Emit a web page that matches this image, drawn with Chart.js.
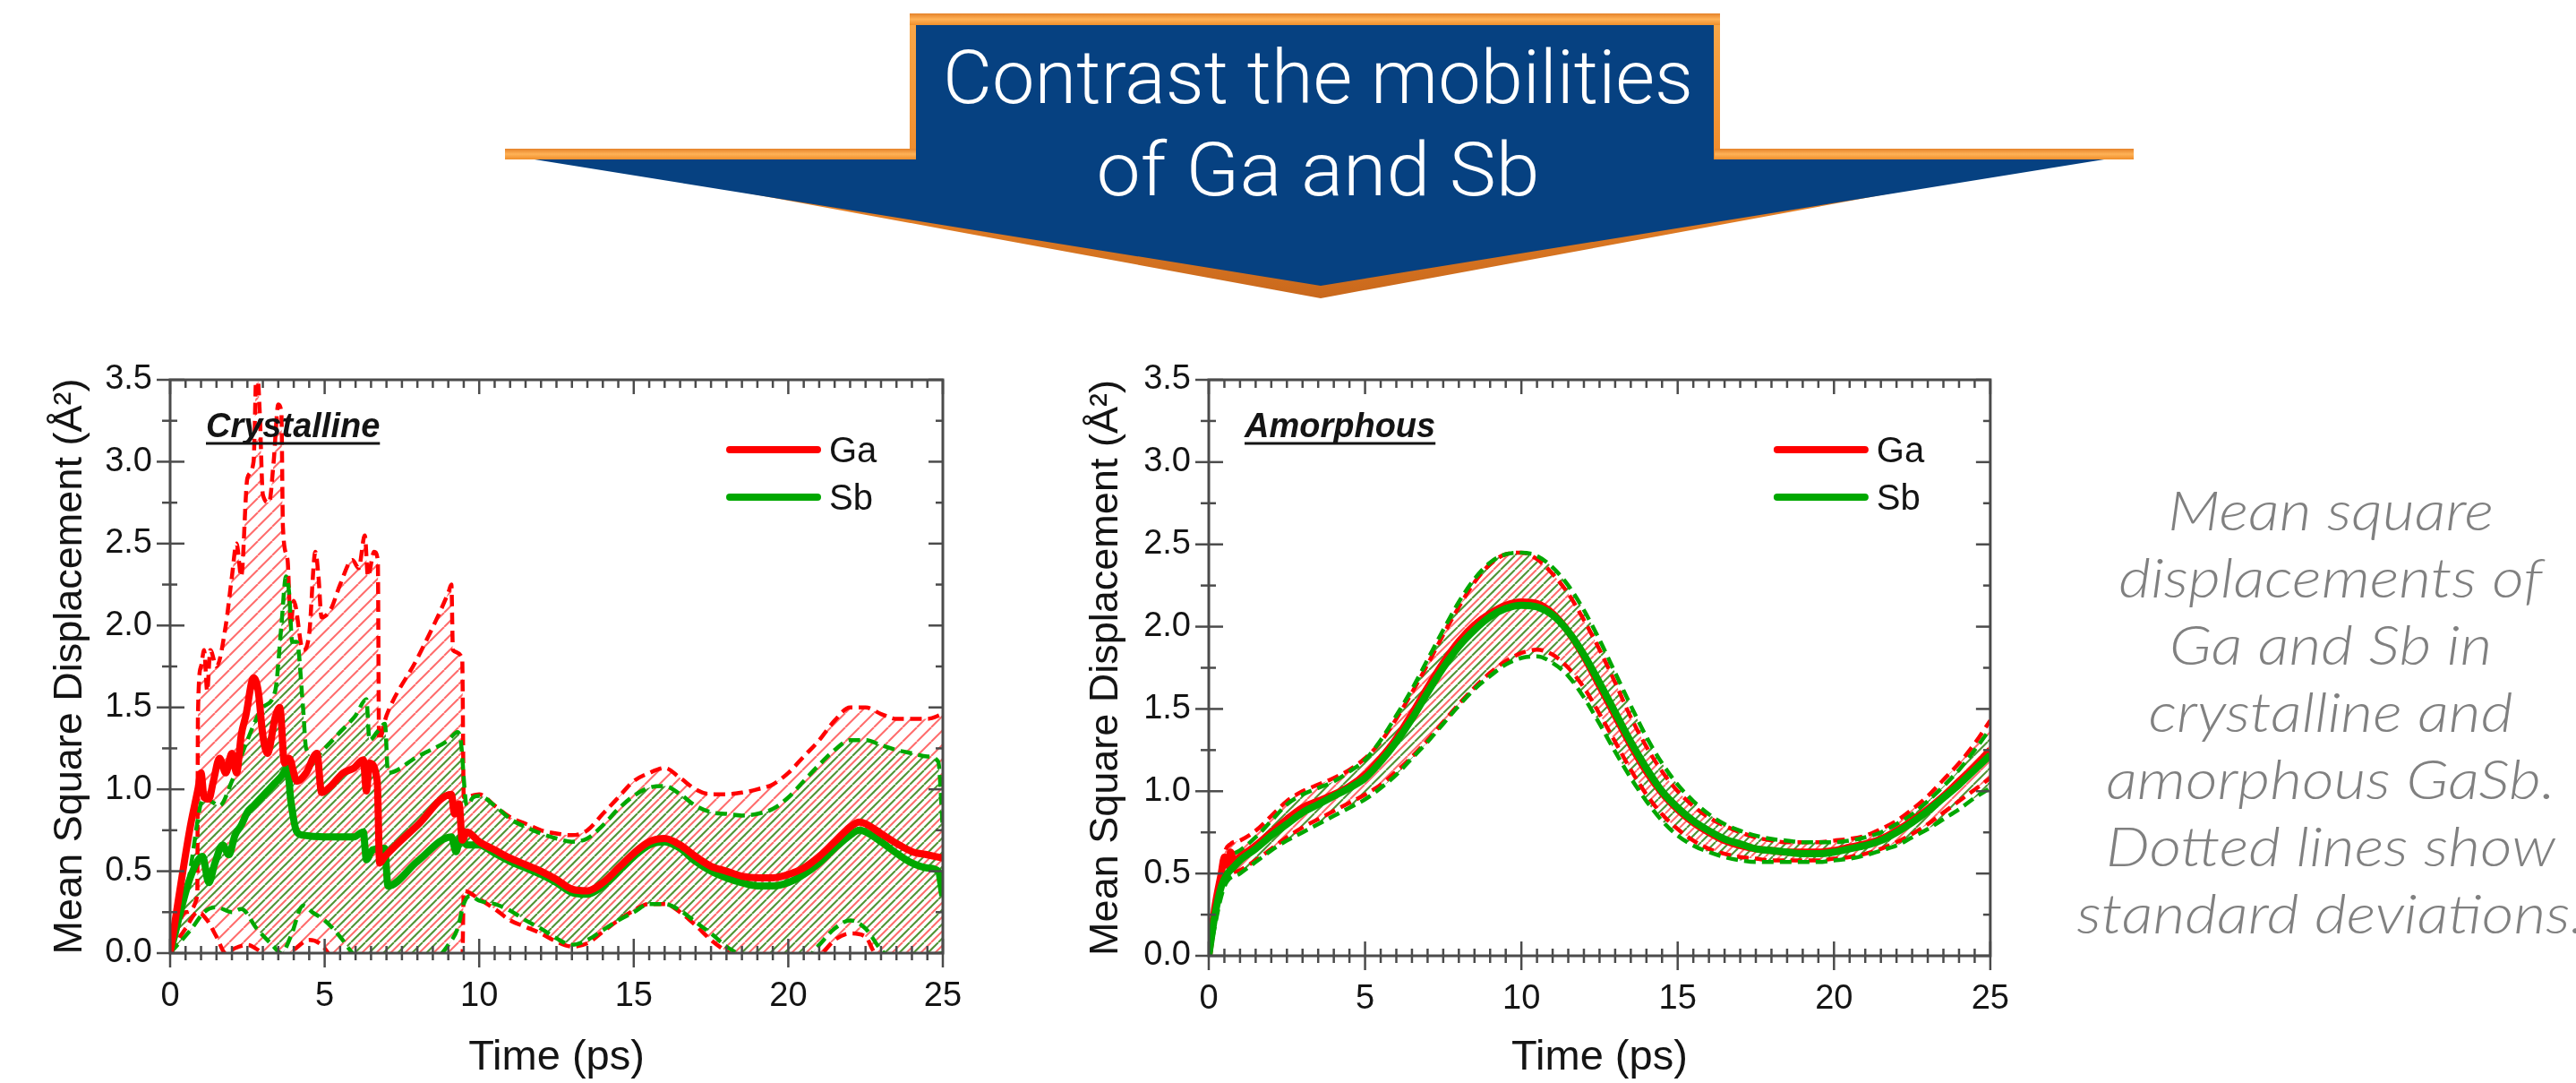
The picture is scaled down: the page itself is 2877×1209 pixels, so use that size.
<!DOCTYPE html>
<html>
<head>
<meta charset="utf-8">
<script src="https://cdn.jsdelivr.net/npm/chart.js@4.4.1/dist/chart.umd.min.js"></script>
<style>
  html, body { margin:0; padding:0; background:#fff; width:2877px; height:1209px; overflow:hidden; position:relative; }
  #banner { position:absolute; left:0; top:0; }
  .chartbox { position:absolute; top:380px; width:1130px; height:829px; }
  #caption { position:absolute; left:2103px; top:531px; width:1000px; text-align:center;
    font-family:Lato,'Open Sans',sans-serif; font-weight:300; font-style:italic; font-size:62px;
    line-height:75px; color:#808080; white-space:nowrap; transform:scaleX(1.12); transform-origin:50% 0; }
</style>
</head>
<body>
<svg id="banner" width="2877" height="340" xmlns="http://www.w3.org/2000/svg">
  <defs>
    <linearGradient id="og" x1="0" y1="0" x2="0" y2="1">
      <stop offset="0" stop-color="#f9a94a"/>
      <stop offset="0.5" stop-color="#f08c2c"/>
      <stop offset="1" stop-color="#c9681c"/>
    </linearGradient>
    <linearGradient id="ot" x1="0" y1="0" x2="0" y2="1">
      <stop offset="0" stop-color="#e5822a"/>
      <stop offset="0.5" stop-color="#ffb257"/>
      <stop offset="1" stop-color="#ef8f2c"/>
    </linearGradient>
  </defs>
  <polygon points="1016,15 1921,15 1921,166 2383,166 1475,333 564,166 1016,166" fill="url(#og)"/>
  <rect x="1016" y="15" width="905" height="13" fill="url(#ot)"/>
  <rect x="564" y="166" width="459" height="12" fill="url(#ot)"/>
  <rect x="1915" y="166" width="468" height="12" fill="url(#ot)"/>
  <polygon points="1023,28 1914,28 1914,178 2350,178 1475,319 597,178 1023,178" fill="#064181"/>
  <text x="1472" y="115" text-anchor="middle" font-family="Roboto, 'Open Sans', sans-serif" font-weight="300" font-size="84" fill="#ffffff" textLength="838" lengthAdjust="spacingAndGlyphs">Contrast the mobilities</text>
  <text x="1472" y="218" text-anchor="middle" font-family="Roboto, 'Open Sans', sans-serif" font-weight="300" font-size="84" fill="#ffffff" textLength="495" lengthAdjust="spacingAndGlyphs">of Ga and Sb</text>
</svg>

<div class="chartbox" style="left:0px;"><canvas id="c1" width="1130" height="829"></canvas></div>
<div class="chartbox" style="left:1140px;"><canvas id="c2" width="1130" height="829"></canvas></div>

<div id="caption">Mean square<br>displacements of<br>Ga and Sb in<br>crystalline and<br>amorphous GaSb.<br>Dotted lines show<br>standard deviations.</div>

<script>
// ---------------- DATA (time in ps, MSD in Å²) ----------------
const seriesNames = ['Ga', 'Sb'];
const xTickValues = [0, 5, 10, 15, 20, 25];
const xTickLabels = ['0', '5', '10', '15', '20', '25'];
const yTickValues = [0, 0.5, 1, 1.5, 2, 2.5, 3, 3.5];
const yTickLabels = ['0.0', '0.5', '1.0', '1.5', '2.0', '2.5', '3.0', '3.5'];

// Crystalline
const crysGaMean = [[0,0],[0.65,0.77],[0.9,1.0],[1.0,1.1],[1.1,0.95],[1.25,0.94],[1.4,1.05],[1.6,1.19],[1.8,1.1],[2.0,1.22],[2.15,1.1],[2.3,1.33],[2.45,1.45],[2.7,1.68],[2.85,1.6],[3.0,1.33],[3.15,1.22],[3.4,1.44],[3.55,1.5],[3.7,1.16],[3.85,1.19],[4.1,1.05],[4.4,1.1],[4.75,1.22],[4.9,0.98],[5.2,1.02],[5.6,1.1],[5.95,1.13],[6.25,1.18],[6.35,0.99],[6.45,1.16],[6.7,1.05],[6.78,0.55],[6.95,0.59],[8.0,0.78],[9.1,0.97],[9.2,0.85],[9.35,0.91],[9.45,0.69],[9.6,0.74],[10,0.68],[10.5,0.63],[11,0.58],[11.5,0.54],[12,0.5],[12.5,0.45],[13,0.39],[13.5,0.38],[14,0.43],[14.5,0.52],[15,0.61],[15.5,0.68],[16,0.7],[16.5,0.66],[17,0.59],[17.5,0.53],[18,0.5],[18.5,0.47],[19,0.46],[19.5,0.46],[20,0.48],[20.5,0.52],[21,0.59],[21.5,0.68],[22,0.77],[22.3,0.8],[22.5,0.79],[23,0.73],[23.5,0.67],[24,0.62],[24.5,0.6],[25,0.58]];
const crysSbMean = [[0,0],[0.65,0.46],[1.05,0.59],[1.25,0.43],[1.45,0.55],[1.7,0.66],[1.9,0.6],[2.1,0.72],[2.3,0.78],[2.5,0.86],[2.7,0.9],[3.0,0.96],[3.2,1.0],[3.4,1.04],[3.6,1.08],[3.8,1.13],[3.9,0.94],[4.1,0.74],[4.3,0.72],[5.0,0.71],[5.95,0.71],[6.25,0.74],[6.35,0.57],[6.55,0.63],[6.94,0.64],[7.05,0.41],[8.0,0.56],[9.1,0.71],[9.25,0.62],[9.4,0.71],[9.6,0.66],[10,0.66],[10.5,0.61],[11,0.56],[11.5,0.52],[12,0.48],[12.5,0.43],[13,0.37],[13.5,0.36],[14,0.41],[14.5,0.5],[15,0.59],[15.5,0.66],[16,0.68],[16.5,0.64],[17,0.56],[17.5,0.5],[18,0.46],[18.5,0.43],[19,0.41],[19.5,0.41],[20,0.43],[20.5,0.48],[21,0.55],[21.5,0.64],[22,0.72],[22.3,0.75],[22.5,0.74],[23,0.68],[23.5,0.61],[24,0.55],[24.5,0.52],[24.85,0.5],[25,0.35]];
const crysGaUpper = [[0,0],[0.5,0.25],[0.88,0.35],[0.9,1.45],[1.0,1.75],[1.1,1.85],[1.2,1.6],[1.3,1.85],[1.5,1.75],[1.8,2.0],[2.0,2.3],[2.15,2.5],[2.3,2.3],[2.5,2.9],[2.7,3.0],[2.8,3.6],[2.9,3.3],[3.0,2.8],[3.2,2.75],[3.35,3.0],[3.5,3.35],[3.6,3.3],[3.65,2.6],[3.8,2.4],[3.9,2.0],[4.0,2.15],[4.3,1.85],[4.5,1.95],[4.7,2.45],[4.8,2.3],[4.9,2.05],[5.2,2.1],[5.5,2.25],[5.9,2.4],[6.1,2.35],[6.3,2.55],[6.4,2.3],[6.6,2.45],[6.72,2.4],[6.76,1.3],[7.0,1.45],[8.0,1.8],[9.0,2.2],[9.1,2.25],[9.15,1.85],[9.45,1.8],[9.5,0.95],[10,0.97],[10.5,0.9],[11,0.83],[11.5,0.79],[12,0.75],[12.5,0.73],[13,0.72],[13.5,0.75],[14,0.85],[14.5,0.95],[15,1.05],[15.5,1.1],[16,1.13],[16.5,1.07],[17,1.0],[17.5,0.97],[18,0.97],[18.5,0.98],[19,1.0],[19.5,1.03],[20,1.1],[20.5,1.2],[21,1.3],[21.5,1.42],[22,1.5],[22.5,1.5],[23,1.46],[23.5,1.43],[24,1.43],[24.5,1.43],[25,1.46]];
const crysGaLower = [[0,0],[0.5,0.15],[0.9,0.25],[1.2,0.2],[1.5,0.1],[1.8,0.0],[2.1,0.03],[2.5,0.05],[3.0,0.0],[3.5,-0.05],[4.0,0.02],[4.5,0.08],[4.9,0.05],[5.3,-0.05],[6.0,-0.2],[7.0,-0.3],[8.5,-0.2],[9.45,-0.1],[9.5,0.38],[10,0.33],[10.5,0.27],[11,0.2],[11.5,0.16],[12,0.12],[12.5,0.07],[13,0.04],[13.5,0.06],[14,0.13],[14.5,0.2],[15,0.26],[15.5,0.3],[16,0.3],[16.5,0.25],[17,0.17],[17.5,0.08],[18,0.01],[18.5,-0.05],[19,-0.1],[20,-0.1],[21,-0.02],[21.5,0.08],[22,0.12],[22.5,0.1],[22.8,0.0],[23.5,-0.05],[25,-0.1]];
const crysSbUpper = [[0,0],[0.6,0.45],[1.0,0.92],[1.1,0.95],[1.3,0.93],[1.6,0.9],[2.0,1.05],[2.5,1.3],[3.0,1.5],[3.4,1.6],[3.6,2.0],[3.75,2.3],[3.85,2.2],[3.95,1.9],[4.1,1.9],[4.3,1.5],[4.4,1.25],[4.7,1.2],[5.0,1.25],[5.5,1.35],[6.0,1.45],[6.35,1.55],[6.45,1.3],[6.7,1.35],[6.95,1.4],[7.05,1.1],[8.0,1.2],[9.0,1.3],[9.3,1.35],[9.4,1.3],[9.6,0.9],[9.8,0.95],[10,0.96],[10.5,0.9],[11,0.82],[11.5,0.77],[12,0.73],[12.5,0.7],[13,0.68],[13.5,0.7],[14,0.78],[14.5,0.88],[15,0.96],[15.5,1.01],[16,1.02],[16.5,0.97],[17,0.9],[17.5,0.86],[18,0.85],[18.5,0.84],[19,0.85],[19.5,0.88],[20,0.95],[20.5,1.05],[21,1.15],[21.5,1.24],[22,1.3],[22.5,1.3],[23,1.27],[23.5,1.24],[24,1.22],[24.5,1.2],[24.85,1.17],[25,0.75]];
const crysSbLower = [[0,0],[0.7,0.15],[1.1,0.25],[1.5,0.28],[2.0,0.25],[2.3,0.27],[2.8,0.15],[3.3,0.05],[3.6,0.0],[3.9,0.1],[4.3,0.29],[4.6,0.25],[5.0,0.2],[5.5,0.1],[5.9,0.0],[6.5,-0.1],[8.5,-0.05],[9.0,0.05],[9.3,0.15],[9.5,0.3],[9.7,0.35],[10,0.32],[10.5,0.3],[11,0.26],[11.5,0.2],[12,0.15],[12.5,0.09],[13,0.05],[13.5,0.08],[14,0.14],[14.5,0.2],[15,0.25],[15.5,0.3],[16,0.3],[16.5,0.26],[17,0.19],[17.5,0.12],[18,0.04],[18.5,-0.02],[19,-0.1],[20.5,-0.05],[21,0.05],[21.5,0.15],[22,0.2],[22.5,0.15],[23,0.02],[23.5,-0.05],[25,0.0]];

// Amorphous
const amorGaMean = [[0,0],[0.2,0.3],[0.4,0.5],[0.5,0.6],[0.6,0.55],[0.7,0.63],[0.8,0.57],[1,0.6],[1.5,0.67],[2,0.75],[2.5,0.83],[3,0.9],[3.5,0.94],[4,0.98],[4.5,1.03],[5,1.1],[5.5,1.2],[6,1.32],[6.5,1.47],[7,1.63],[7.5,1.78],[8,1.91],[8.5,2.01],[9,2.08],[9.5,2.13],[10,2.15],[10.5,2.14],[11,2.08],[11.5,1.97],[12,1.82],[12.5,1.64],[13,1.46],[13.5,1.28],[14,1.12],[14.5,0.99],[15,0.89],[15.5,0.81],[16,0.75],[16.5,0.7],[17,0.67],[17.5,0.65],[18,0.64],[18.5,0.63],[19,0.63],[19.5,0.63],[20,0.64],[20.5,0.66],[21,0.68],[21.5,0.71],[22,0.76],[22.5,0.82],[23,0.89],[23.5,0.97],[24,1.06],[24.5,1.15],[25,1.25]];
const amorSbMean = [[0,0],[0.2,0.25],[0.4,0.42],[0.6,0.5],[0.8,0.54],[1,0.58],[1.5,0.65],[2,0.73],[2.5,0.8],[3,0.87],[3.5,0.92],[4,0.97],[4.5,1.02],[5,1.08],[5.5,1.18],[6,1.3],[6.5,1.44],[7,1.6],[7.5,1.75],[8,1.88],[8.5,1.98],[9,2.06],[9.5,2.11],[10,2.13],[10.5,2.12],[11,2.07],[11.5,1.97],[12,1.83],[12.5,1.66],[13,1.48],[13.5,1.3],[14,1.14],[14.5,1.0],[15,0.9],[15.5,0.82],[16,0.76],[16.5,0.71],[17,0.68],[17.5,0.65],[18,0.64],[18.5,0.63],[19,0.62],[19.5,0.62],[20,0.63],[20.5,0.65],[21,0.67],[21.5,0.7],[22,0.75],[22.5,0.81],[23,0.88],[23.5,0.96],[24,1.04],[24.5,1.13],[25,1.22]];
const amorGaUpper = [[0,0],[0.5,0.62],[0.7,0.68],[1,0.7],[1.5,0.76],[2,0.85],[2.5,0.94],[3,1.0],[3.5,1.04],[4,1.08],[4.5,1.13],[5,1.2],[5.5,1.3],[6,1.44],[6.5,1.6],[7,1.77],[7.5,1.95],[8,2.12],[8.5,2.27],[9,2.38],[9.5,2.44],[10,2.45],[10.5,2.41],[11,2.32],[11.5,2.2],[12,2.04],[12.5,1.86],[13,1.66],[13.5,1.45],[14,1.27],[14.5,1.12],[15,1.0],[15.5,0.91],[16,0.84],[16.5,0.79],[17,0.75],[17.5,0.72],[18,0.7],[18.5,0.69],[19,0.69],[19.5,0.69],[20,0.7],[20.5,0.71],[21,0.73],[21.5,0.77],[22,0.82],[22.5,0.89],[23,0.97],[23.5,1.07],[24,1.17],[24.5,1.29],[25,1.43]];
const amorGaLower = [[0,0],[0.5,0.45],[1,0.52],[1.5,0.58],[2,0.65],[2.5,0.72],[3,0.78],[3.5,0.83],[4,0.88],[4.5,0.93],[5,0.98],[5.5,1.04],[6,1.12],[6.5,1.21],[7,1.31],[7.5,1.42],[8,1.53],[8.5,1.63],[9,1.72],[9.5,1.79],[10,1.84],[10.5,1.86],[11,1.83],[11.5,1.75],[12,1.63],[12.5,1.47],[13,1.3],[13.5,1.13],[14,0.98],[14.5,0.86],[15,0.77],[15.5,0.7],[16,0.65],[16.5,0.62],[17,0.6],[17.5,0.59],[18,0.58],[18.5,0.58],[19,0.58],[19.5,0.58],[20,0.59],[20.5,0.6],[21,0.62],[21.5,0.65],[22,0.69],[22.5,0.74],[23,0.8],[23.5,0.87],[24,0.94],[24.5,1.01],[25,1.08]];
const amorSbUpper = [[0,0],[0.5,0.55],[1,0.64],[1.5,0.72],[2,0.82],[2.5,0.92],[3,0.98],[3.5,1.02],[4,1.06],[4.5,1.12],[5,1.19],[5.5,1.31],[6,1.46],[6.5,1.62],[7,1.8],[7.5,1.98],[8,2.15],[8.5,2.29],[9,2.39],[9.5,2.44],[10,2.45],[10.5,2.43],[11,2.36],[11.5,2.25],[12,2.1],[12.5,1.92],[13,1.72],[13.5,1.52],[14,1.33],[14.5,1.17],[15,1.04],[15.5,0.94],[16,0.86],[16.5,0.8],[17,0.76],[17.5,0.73],[18,0.71],[18.5,0.7],[19,0.69],[19.5,0.69],[20,0.69],[20.5,0.7],[21,0.72],[21.5,0.75],[22,0.8],[22.5,0.86],[23,0.94],[23.5,1.03],[24,1.13],[24.5,1.25],[25,1.38]];
const amorSbLower = [[0,0],[0.5,0.42],[1,0.5],[1.5,0.57],[2,0.64],[2.5,0.7],[3,0.75],[3.5,0.8],[4,0.85],[4.5,0.9],[5,0.95],[5.5,1.02],[6,1.1],[6.5,1.2],[7,1.3],[7.5,1.41],[8,1.52],[8.5,1.62],[9,1.7],[9.5,1.77],[10,1.81],[10.5,1.82],[11,1.78],[11.5,1.7],[12,1.57],[12.5,1.41],[13,1.24],[13.5,1.08],[14,0.94],[14.5,0.82],[15,0.73],[15.5,0.67],[16,0.63],[16.5,0.6],[17,0.58],[17.5,0.57],[18,0.57],[18.5,0.57],[19,0.57],[19.5,0.57],[20,0.58],[20.5,0.59],[21,0.61],[21.5,0.64],[22,0.67],[22.5,0.72],[23,0.77],[23.5,0.83],[24,0.89],[24.5,0.96],[25,1.02]];

// ---------------- STYLE ----------------
const FONT = "'Liberation Sans', Arial, Helvetica, sans-serif";
const RED = '#ff0000';
const GREEN = '#00a800';
const INK = '#141414';

const xMinorTicks = [];
for (let v = 0.5; v < 25; v += 0.5) if (v % 5 !== 0) xMinorTicks.push(v);
const yMinorTicks = [0.25, 0.75, 1.25, 1.75, 2.25, 2.75, 3.25];

function hatch(color, offset) {
  const s = 16;
  const c = document.createElement('canvas');
  c.width = s; c.height = s;
  const g = c.getContext('2d');
  g.strokeStyle = color; g.lineWidth = 2;
  for (const d of [-s, 0, s]) {
    g.beginPath(); g.moveTo(d + offset, s); g.lineTo(d + offset + s, 0); g.stroke();
  }
  return g.createPattern(c, 'repeat');
}

const pts = arr => arr.map(p => ({ x: p[0], y: p[1] }));

const decoPlugin = {
  id: 'msdDeco',
  afterDatasetsDraw(chart, args, opts) {
    const { ctx, chartArea: a, scales: { x, y } } = chart;
    const line = (x1, y1, x2, y2) => { ctx.beginPath(); ctx.moveTo(x1, y1); ctx.lineTo(x2, y2); ctx.stroke(); };
    ctx.save();
    ctx.strokeStyle = '#4b4b4b';
    ctx.lineWidth = 3;
    ctx.strokeRect(a.left, a.top, a.right - a.left, a.bottom - a.top);
    ctx.lineWidth = 2.5;
    for (const v of yMinorTicks) { const p = y.getPixelForValue(v); line(a.left - 9, p, a.left + 8, p); line(a.right - 8, p, a.right, p); }
    for (const v of yTickValues) { const p = y.getPixelForValue(v); line(a.left - 15, p, a.left + 16, p); line(a.right - 16, p, a.right, p); }
    for (const v of xMinorTicks) { const p = x.getPixelForValue(v); line(p, a.bottom + 8, p, a.bottom - 8); line(p, a.top, p, a.top + 9); }
    for (const v of xTickValues) { const p = x.getPixelForValue(v); line(p, a.bottom + 16, p, a.bottom - 16); line(p, a.top, p, a.top + 16); }

    // panel label
    ctx.fillStyle = INK; ctx.strokeStyle = INK;
    ctx.font = `italic bold 38px ${FONT}`;
    ctx.textBaseline = 'alphabetic'; ctx.textAlign = 'left';
    const lx = a.left + 40, ly = a.top + 64;
    ctx.fillText(opts.label, lx, ly);
    const w = ctx.measureText(opts.label).width;
    ctx.lineWidth = 3; line(lx, ly + 7, lx + w, ly + 7);

    // legend (mean curves)
    ctx.font = `40px ${FONT}`;
    ctx.lineCap = 'round';
    opts.legendIdx.forEach((di, row) => {
      const ds = chart.data.datasets[di];
      const ly2 = a.top + 78 + row * 53;
      ctx.strokeStyle = ds.borderColor; ctx.lineWidth = 8;
      line(a.right - 238, ly2, a.right - 140, ly2);
      ctx.fillStyle = INK;
      ctx.fillText(ds.label, a.right - 127, ly2 + 14);
    });
    ctx.restore();
  }
};

function makeChart(id, d, o) {
  const redHatch = hatch('rgba(255,100,100,0.95)', 0);
  const greenHatch = hatch('rgba(60,135,30,0.9)', 8);
  const datasets = [
    { label: 'Ga + σ', data: pts(d.gaUp), borderColor: RED, borderWidth: 4.5, borderDash: [13, 7], fill: 1, backgroundColor: redHatch, order: 3, clip: 0 },
    { label: 'Ga − σ', data: pts(d.gaLo), borderColor: RED, borderWidth: 4.5, borderDash: [13, 7], fill: false, order: 3, clip: 0 },
    { label: 'Sb + σ', data: pts(d.sbUp), borderColor: GREEN, borderWidth: 4.5, borderDash: [13, 7], fill: 3, backgroundColor: greenHatch, order: 2, clip: 0 },
    { label: 'Sb − σ', data: pts(d.sbLo), borderColor: GREEN, borderWidth: 4.5, borderDash: [13, 7], fill: false, order: 2, clip: 0 },
    { label: seriesNames[0], data: pts(d.gaMean), borderColor: RED, borderWidth: 8, fill: false, order: o.gaOrder },
    { label: seriesNames[1], data: pts(d.sbMean), borderColor: GREEN, borderWidth: 8, fill: false, order: o.sbOrder }
  ];
  return new Chart(document.getElementById(id), {
    type: 'line',
    data: { datasets },
    plugins: [decoPlugin],
    options: {
      responsive: false, animation: false, devicePixelRatio: 1,
      layout: { padding: { left: 0, top: 44, right: o.padRight, bottom: 0 } },
      elements: { point: { radius: 0, hoverRadius: 0 }, line: { cubicInterpolationMode: 'monotone', borderJoinStyle: 'round' } },
      plugins: {
        legend: { display: false }, tooltip: { enabled: false },
        filler: { drawTime: 'beforeDatasetsDraw' },
        msdDeco: { label: o.label, legendIdx: [4, 5] }
      },
      scales: {
        x: {
          type: 'linear', min: 0, max: 25,
          afterFit(s) { s.height = o.xAxisH; },
          afterBuildTicks(s) { s.ticks = xTickValues.map(v => ({ value: v })); },
          grid: { display: false, drawTicks: false }, border: { display: false },
          ticks: { font: { family: FONT, size: 38 }, color: INK, padding: 26, maxRotation: 0, autoSkip: false,
                   callback: (v) => xTickLabels[xTickValues.indexOf(v)] },
          title: { display: true, text: 'Time (ps)', font: { family: FONT, size: 47 }, color: INK, padding: { top: 0, bottom: 0 } }
        },
        y: {
          type: 'linear', min: 0, max: 3.5,
          afterFit(s) { s.width = o.yAxisW; },
          afterBuildTicks(s) { s.ticks = yTickValues.map(v => ({ value: v })); },
          grid: { display: false, drawTicks: false }, border: { display: false },
          ticks: { font: { family: FONT, size: 38 }, color: INK, padding: 20, autoSkip: false,
                   callback: (v) => yTickLabels[yTickValues.indexOf(v)] },
          title: { display: true, text: 'Mean Square Displacement (Å²)', font: { family: FONT, size: 45 }, color: INK, padding: { top: o.yTitlePad, bottom: 0 } }
        }
      }
    }
  });
}

makeChart('c1',
  { gaMean: crysGaMean, sbMean: crysSbMean, gaUp: crysGaUpper, gaLo: crysGaLower, sbUp: crysSbUpper, sbLo: crysSbLower },
  { label: 'Crystalline', yAxisW: 190, xAxisH: 145, padRight: 77, yTitlePad: 52, gaOrder: 0, sbOrder: 1 });
makeChart('c2',
  { gaMean: amorGaMean, sbMean: amorSbMean, gaUp: amorGaUpper, gaLo: amorGaLower, sbUp: amorSbUpper, sbLo: amorSbLower },
  { label: 'Amorphous', yAxisW: 210, xAxisH: 142, padRight: 47, yTitlePad: 69, gaOrder: 1, sbOrder: 0 });
</script>
</body>
</html>
